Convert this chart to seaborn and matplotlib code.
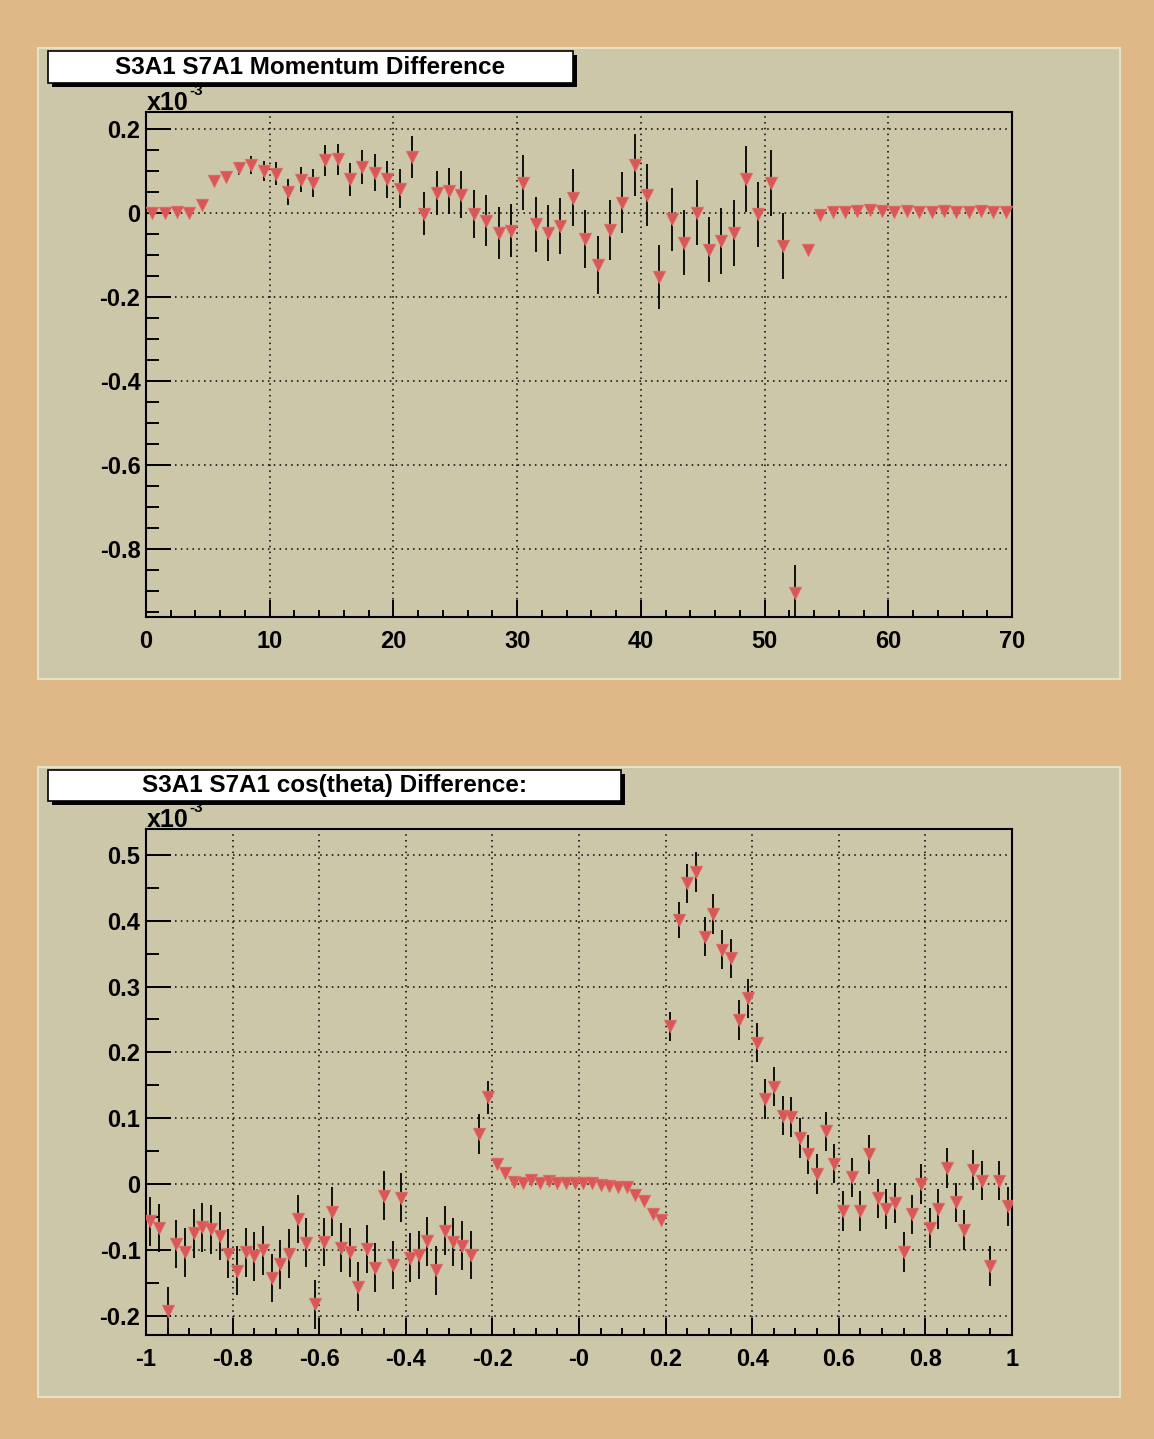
import numpy as np
import pandas as pd
import seaborn as sns
import matplotlib.pyplot as plt
from matplotlib.patches import Rectangle
from matplotlib.ticker import MultipleLocator, FixedLocator, FixedFormatter

# ---- data (values in units of 1e-3) ----
mom_nbins = 70
mom_range = (0, 70)
mom_val = [0.000, 0.000, 0.002, 0.000, 0.018, 0.076, 0.085, 0.106, 0.114, 0.100,
           0.094, 0.050, 0.079, 0.072, 0.126, 0.128, 0.080, 0.109, 0.096, 0.080,
           0.058, 0.133, -0.002, 0.048, 0.052, 0.043, -0.002, -0.018, -0.048, -0.042,
           0.072, -0.027, -0.048, -0.031, 0.036, -0.063, -0.124, -0.040, 0.025, 0.114,
           0.043, -0.152, -0.015, -0.071, 0.001, -0.087, -0.067, -0.048, 0.081, -0.003,
           0.071, -0.079, -0.905, -0.088, -0.005, 0.003, 0.002, 0.004, 0.006, 0.004,
           0.002, 0.004, 0.002, 0.002, 0.005, 0.002, 0.002, 0.004, 0.002, 0.002]
mom_err = [0.002, 0.002, 0.002, 0.002, 0.005, 0.008, 0.010, 0.015, 0.021, 0.024,
           0.027, 0.030, 0.030, 0.033, 0.037, 0.037, 0.040, 0.041, 0.044, 0.045,
           0.047, 0.050, 0.051, 0.053, 0.055, 0.056, 0.057, 0.060, 0.062, 0.063,
           0.065, 0.065, 0.066, 0.067, 0.068, 0.069, 0.070, 0.072, 0.073, 0.073,
           0.074, 0.076, 0.075, 0.077, 0.077, 0.078, 0.078, 0.078, 0.078, 0.078,
           0.078, 0.078, 0.068, 0.000, 0.002, 0.002, 0.002, 0.002, 0.002, 0.002,
           0.002, 0.002, 0.002, 0.002, 0.002, 0.002, 0.002, 0.002, 0.002, 0.002]

cos_nbins = 100
cos_range = (-1, 1)
cos_val = [-0.057, -0.067, -0.193, -0.091, -0.104, -0.075, -0.066, -0.069, -0.079, -0.106,
           -0.132, -0.104, -0.110, -0.101, -0.143, -0.122, -0.106, -0.053, -0.089, -0.183,
           -0.088, -0.042, -0.097, -0.104, -0.156, -0.099, -0.127, -0.018, -0.123, -0.021,
           -0.112, -0.108, -0.087, -0.131, -0.071, -0.088, -0.094, -0.108, 0.076, 0.132,
           0.030, 0.016, 0.003, 0.001, 0.006, 0.001, 0.004, 0.002, 0.002, 0.002,
           0.002, 0.001, -0.002, -0.003, -0.004, -0.005, -0.017, -0.026, -0.045, -0.055,
           0.240, 0.401, 0.457, 0.474, 0.376, 0.410, 0.356, 0.343, 0.249, 0.282,
           0.215, 0.129, 0.148, 0.104, 0.102, 0.070, 0.045, 0.015, 0.080, 0.031,
           -0.041, 0.010, -0.041, 0.045, -0.022, -0.038, -0.029, -0.103, -0.046, 0.000,
           -0.067, -0.038, 0.024, -0.028, -0.070, 0.021, 0.005, -0.125, 0.005, -0.034]
cos_err = [0.037] * 38 + [0.030, 0.025] + [0.003] * 20 + \
          [0.022, 0.027, 0.030, 0.030, 0.030, 0.030, 0.030, 0.030, 0.030, 0.030,
           0.030, 0.030, 0.030, 0.030, 0.030, 0.030, 0.030, 0.030, 0.030, 0.030] + \
          [0.030] * 20

mom_title = "S3A1 S7A1 Momentum Difference"
cos_title = "S3A1 S7A1 cos(theta) Difference:"
cos_ticklabels = ["-1", "-0.8", "-0.6", "-0.4", "-0.2", "-0", "0.2", "0.4", "0.6", "0.8", "1"]

# ---- style ----
sns.set_style("ticks")
plt.rcParams['font.family'] = ['Liberation Sans', 'DejaVu Sans']
plt.rcParams['font.weight'] = 'bold'
plt.rcParams['text.color'] = 'black'
plt.rcParams['xtick.color'] = 'black'
plt.rcParams['ytick.color'] = 'black'
plt.rcParams['xtick.labelcolor'] = 'black'
plt.rcParams['ytick.labelcolor'] = 'black'

W, H = 1154, 1439
BG = '#deb887'
PAD = '#cdc7aa'
MARK = '#d95757'

fig = plt.figure(figsize=(W / 100, H / 100), dpi=100)
fig.patch.set_facecolor(BG)


def px_rect(x0, y0, x1, y1, **kw):
    # rectangle in pixel coords (y measured from top)
    r = Rectangle((x0 / W, 1 - y1 / H), (x1 - x0) / W, (y1 - y0) / H,
                  transform=fig.transFigure, **kw)
    fig.patches.append(r)


def title_box(x0, y0, x1, y1, text):
    px_rect(x0 + 4, y0 + 4, x1 + 4, y1 + 4, facecolor='black', edgecolor='none', zorder=5)
    px_rect(x0, y0, x1, y1, facecolor='white', edgecolor='black', lw=1.2, zorder=6)
    fig.text((x0 + x1) / 2 / W, 1 - (y0 + y1) / 2 / H, text, ha='center', va='center',
             fontsize=17.5, fontweight='bold', color='black', zorder=7)


def exponent_label(x_px, base_px):
    fig.text(x_px / W, 1 - base_px / H, 'x10', ha='left', va='baseline',
             fontsize=18, fontweight='bold')
    fig.text((x_px + 42) / W, 1 - (base_px - 15) / H, '-3', ha='left', va='baseline',
             fontsize=11, fontweight='bold')


def draw_panel(ax, centers, vals, errs, xlim, ylim):
    df = pd.DataFrame({'x': centers, 'y': vals, 'e': errs})
    ax.vlines(df['x'], df['y'] - df['e'], df['y'] + df['e'], color='black', lw=1.3, zorder=2)
    sns.scatterplot(data=df, x='x', y='y', marker='v', s=85, color=MARK,
                    edgecolor='#e07a6e', linewidth=0.4, ax=ax, zorder=3, legend=False)
    ax.set_xlim(*xlim)
    ax.set_ylim(*ylim)
    ax.set_facecolor(PAD)
    ax.set_xlabel('')
    ax.set_ylabel('')
    for s in ax.spines.values():
        s.set_visible(True)
        s.set_linewidth(1.5)
        s.set_color('black')
    ax.grid(True, which='major', color='black', linestyle=(0, (1, 2.8)), lw=1.1)
    ax.tick_params(which='both', direction='in', top=False, right=False, width=1.4,
                   labelsize=17)
    ax.tick_params(axis='x', which='major', length=12, pad=9)
    ax.tick_params(axis='x', which='minor', length=5)
    ax.tick_params(axis='y', which='major', length=18, pad=4)
    ax.tick_params(axis='y', which='minor', length=9)


# pads
px_rect(38, 48, 1120, 679, facecolor=PAD, edgecolor='#e6e0c6', lw=1.5, zorder=-10)
px_rect(38, 767, 1120, 1397, facecolor=PAD, edgecolor='#e6e0c6', lw=1.5, zorder=-10)

# ---- top: momentum ----
ax1 = fig.add_axes([146 / W, 1 - 617 / H, 866 / W, 505 / H])
mom_edges = np.linspace(mom_range[0], mom_range[1], mom_nbins + 1)
mom_centers = 0.5 * (mom_edges[:-1] + mom_edges[1:])
draw_panel(ax1, mom_centers, mom_val, mom_err, mom_range, (-0.962, 0.2405))
ax1.xaxis.set_major_locator(MultipleLocator(10))
ax1.xaxis.set_minor_locator(MultipleLocator(2))
ax1.yaxis.set_major_locator(FixedLocator([-0.8, -0.6, -0.4, -0.2, 0.0, 0.2]))
ax1.yaxis.set_major_formatter(FixedFormatter(['-0.8', '-0.6', '-0.4', '-0.2', '0', '0.2']))
ax1.yaxis.set_minor_locator(MultipleLocator(0.05))
for lab in ax1.get_xticklabels() + ax1.get_yticklabels():
    lab.set_fontweight('bold')
exponent_label(147, 110)

# ---- bottom: cos(theta) ----
ax2 = fig.add_axes([146 / W, 1 - 1335 / H, 866 / W, 506 / H])
cos_edges = np.linspace(cos_range[0], cos_range[1], cos_nbins + 1)
cos_centers = 0.5 * (cos_edges[:-1] + cos_edges[1:])
draw_panel(ax2, cos_centers, cos_val, cos_err, cos_range, (-0.2295, 0.5395))
ax2.xaxis.set_major_locator(FixedLocator(np.linspace(-1, 1, 11)))
ax2.xaxis.set_major_formatter(FixedFormatter(cos_ticklabels))
ax2.xaxis.set_minor_locator(MultipleLocator(0.05))
ax2.yaxis.set_major_locator(FixedLocator([-0.2, -0.1, 0.0, 0.1, 0.2, 0.3, 0.4, 0.5]))
ax2.yaxis.set_major_formatter(FixedFormatter(['-0.2', '-0.1', '0', '0.1', '0.2', '0.3', '0.4', '0.5']))
ax2.yaxis.set_minor_locator(MultipleLocator(0.05))
for lab in ax2.get_xticklabels() + ax2.get_yticklabels():
    lab.set_fontweight('bold')
exponent_label(147, 827)

title_box(48, 51, 573, 83, mom_title)
title_box(48, 770, 621, 801, cos_title)

fig.savefig('out.png', dpi=100, facecolor=BG)
